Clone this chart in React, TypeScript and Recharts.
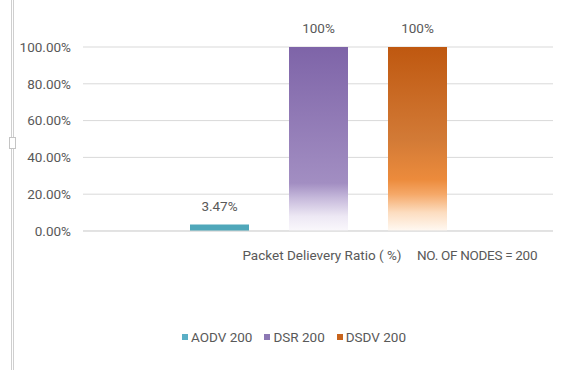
import { BarChart, Bar, XAxis, YAxis, CartesianGrid, LabelList, Legend } from "recharts";

const categories = ["Packet Delievery Ratio ( %)"];
const aodvValues = [3.47];
const dsrValues = [100];
const dsdvValues = [100];
const seriesNames = ["AODV 200", "DSR 200", "DSDV 200"];
const yTicks = [0, 20, 40, 60, 80, 100];
const nodesNote = "NO. OF NODES = 200";

const data = categories.map((name, i) => ({
  name,
  aodv: aodvValues[i],
  dsr: dsrValues[i],
  dsdv: dsdvValues[i],
}));

const FONT = "Roboto, sans-serif";
const TEXT = "#595959";

const series = [
  { key: "aodv", name: seriesNames[0], fill: "#4FA7BA", swatch: "#5AAFC6" },
  { key: "dsr", name: seriesNames[1], fill: "url(#dsrFade)", swatch: "#8C78B4" },
  { key: "dsdv", name: seriesNames[2], fill: "url(#dsdvFade)", swatch: "#C8641C" },
];

const CategoryTick = ({ x, y, payload }: any) => (
  <g fontFamily={FONT} fontSize={13.5} fill={TEXT}>
    <text x={x + 4} y={y + 21} textAnchor="middle">
      {payload.value}
    </text>
    <text x={x + 99} y={y + 21} textAnchor="start" letterSpacing={-0.3}>
      {nodesNote}
    </text>
  </g>
);

const LegendRow = () => (
  <div
    style={{
      display: "flex",
      justifyContent: "center",
      gap: 12,
      fontFamily: FONT,
      fontSize: 13.5,
      color: TEXT,
      paddingLeft: 20,
    }}
  >
    {series.map((s) => (
      <div key={s.key} style={{ display: "flex", alignItems: "center" }}>
        <span style={{ width: 6, height: 6, background: s.swatch, marginRight: 3 }} />
        <span>{s.name}</span>
      </div>
    ))}
  </div>
);

export default function App() {
  return (
    <div style={{ position: "absolute", left: 0, top: 0, width: 568, height: 370, background: "#fff" }}>
      <div
        style={{
          position: "absolute",
          left: 11,
          top: 0,
          width: 1,
          height: 370,
          borderLeft: "1px solid #cfcfcf",
          borderRight: "1px solid #cfcfcf",
        }}
      />
      <div
        style={{
          position: "absolute",
          left: 9,
          top: 137,
          width: 5,
          height: 10,
          border: "1px solid #c4c4c4",
          background: "#fff",
        }}
      />
      <BarChart
        width={568}
        height={370}
        data={data}
        margin={{ top: 47, right: 15, bottom: 109, left: 0 }}
        barGap={40}
        barSize={59}
      >
        <defs>
          <linearGradient id="dsrFade" x1="0" y1="0" x2="0" y2="1">
            <stop offset="0" stopColor="#7E64A8" />
            <stop offset="0.74" stopColor="#A28EC2" />
            <stop offset="0.82" stopColor="#C6B9DB" />
            <stop offset="0.92" stopColor="#EDE8F4" />
            <stop offset="1" stopColor="#FAF8FC" />
          </linearGradient>
          <linearGradient id="dsdvFade" x1="0" y1="0" x2="0" y2="1">
            <stop offset="0" stopColor="#BF5810" />
            <stop offset="0.5" stopColor="#D27A36" />
            <stop offset="0.72" stopColor="#EC8B3C" />
            <stop offset="0.8" stopColor="#F5A868" />
            <stop offset="0.9" stopColor="#FCDDC0" />
            <stop offset="1" stopColor="#FFF9F3" />
          </linearGradient>
        </defs>
        <CartesianGrid vertical={false} stroke="#d9d9d9" />
        <XAxis
          dataKey="name"
          axisLine={{ stroke: "#d9d9d9" }}
          tickLine={false}
          tick={<CategoryTick />}
          height={30}
        />
        <YAxis
          domain={[0, 100]}
          ticks={yTicks}
          tickFormatter={(v: number) => `${v.toFixed(2)}%`}
          axisLine={false}
          tickLine={false}
          tickSize={0}
          tickMargin={12}
          width={83}
          tick={{ fill: TEXT, fontSize: 13.5, fontFamily: FONT }}
        />
        <Legend
          verticalAlign="middle"
          wrapperStyle={{ top: 329, left: 0, width: 568 }}
          content={() => <LegendRow />}
        />
        {series.map((s) => (
          <Bar key={s.key} dataKey={s.key} name={s.name} fill={s.fill} isAnimationActive={false}>
            <LabelList
              dataKey={s.key}
              position="top"
              offset={14}
              formatter={(v: any) => `${v}%`}
              fill={TEXT}
              fontSize={13.5}
              fontFamily={FONT}
            />
          </Bar>
        ))}
      </BarChart>
    </div>
  );
}
